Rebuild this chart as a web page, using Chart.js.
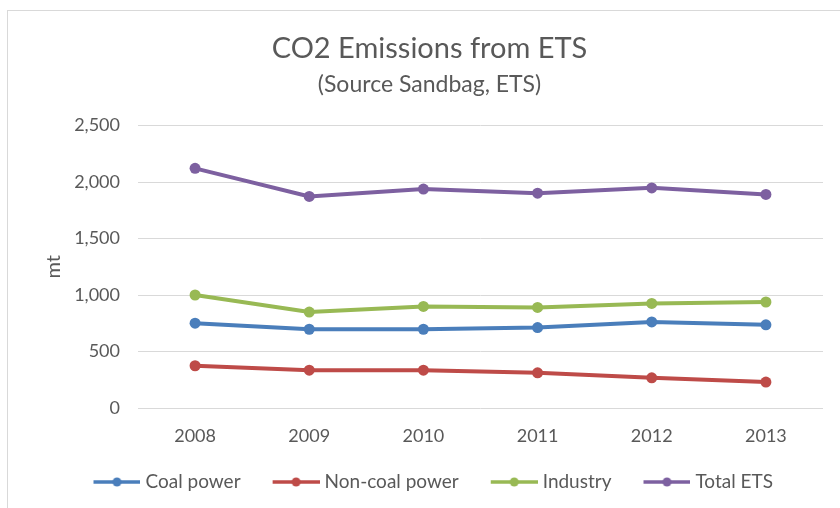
<!DOCTYPE html>
<html>
<head>
<meta charset="utf-8">
<script src="https://cdn.jsdelivr.net/npm/chart.js@4"></script>
<style>
  body { margin: 0; background: #fff; }
  #wrap { position: relative; width: 840px; height: 508px; overflow: hidden; }
  #frame {
    position: absolute; left: 7px; top: 10px; width: 900px; height: 600px;
    border-left: 1px solid #d9d9d9; border-top: 1px solid #d9d9d9;
    pointer-events: none;
  }
</style>
</head>
<body>
<div id="wrap">
  <canvas id="emissions" width="840" height="508"></canvas>
  <div id="frame"></div>
</div>
<script>
const years = ['2008', '2009', '2010', '2011', '2012', '2013'];
const coalPower = [751, 697, 697, 712, 762, 736];
const nonCoalPower = [374, 335, 335, 311, 267, 229];
const industry = [1000, 849, 899, 890, 925, 938];
const totalEts = [2121, 1872, 1937, 1901, 1948, 1890];

const seriesNames = ['Coal power', 'Non-coal power', 'Industry', 'Total ETS'];
const seriesColors = ['#4a7ebb', '#be4b48', '#98b954', '#7d60a0'];
const yTicks = [0, 500, 1000, 1500, 2000, 2500];

const FONT = 'Lato, "Open Sans", sans-serif';
const GREY = '#595959';

// line-with-dot swatch for the legend; the left 12px stay blank so the
// items sit a bit further apart than the legend padding alone gives
function legendSwatch(color) {
    const c = document.createElement('canvas');
    c.width = 59;
    c.height = 12;
    const g = c.getContext('2d');
    g.strokeStyle = color;
    g.lineWidth = 3.5;
    g.beginPath();
    g.moveTo(12, 6);
    g.lineTo(59, 6);
    g.stroke();
    g.fillStyle = color;
    g.beginPath();
    g.arc(35.5, 6, 4.5, 0, Math.PI * 2);
    g.fill();
    return c;
}

function makeSet(label, data, color) {
    return {
        label: label,
        data: data,
        borderColor: color,
        backgroundColor: color,
        borderWidth: 4,
        pointRadius: 5.5,
        pointHoverRadius: 5.5,
        pointBorderWidth: 0,
        tension: 0
    };
}

const datasets = [
    makeSet(seriesNames[0], coalPower, seriesColors[0]),
    makeSet(seriesNames[1], nonCoalPower, seriesColors[1]),
    makeSet(seriesNames[2], industry, seriesColors[2]),
    makeSet(seriesNames[3], totalEts, seriesColors[3])
];

new Chart(document.getElementById('emissions'), {
    type: 'line',
    data: {
        labels: years,
        datasets: datasets
    },
    options: {
        responsive: false,
        animation: false,
        layout: {
            padding: { left: 36, right: 17, top: 0, bottom: 6.5 }
        },
        plugins: {
            title: {
                display: true,
                text: 'CO2 Emissions from ETS',
                color: GREY,
                font: { family: FONT, size: 29, weight: 'normal', lineHeight: 1 },
                padding: { top: 34.5, bottom: 0 }
            },
            subtitle: {
                display: true,
                text: '(Source Sandbag, ETS)',
                color: GREY,
                font: { family: FONT, size: 23, weight: 'normal', lineHeight: 1 },
                padding: { top: 10, bottom: 29 }
            },
            legend: {
                position: 'bottom',
                labels: {
                    color: GREY,
                    font: { family: FONT, size: 19 },
                    usePointStyle: true,
                    pointStyleWidth: 50,
                    padding: 24.5,
                    generateLabels: function (chart) {
                        const items = Chart.defaults.plugins.legend.labels.generateLabels(chart);
                        items.forEach(function (item, i) {
                            item.pointStyle = legendSwatch(seriesColors[i]);
                        });
                        return items;
                    }
                }
            },
            tooltip: { enabled: false }
        },
        scales: {
            x: {
                offset: true,
                afterFit: function (scale) {
                    scale.height = 40;
                },
                grid: { display: false, drawTicks: false },
                border: { display: false },
                ticks: {
                    color: GREY,
                    font: { family: FONT, size: 18 },
                    padding: 17
                }
            },
            y: {
                min: 0,
                max: 2500,
                afterBuildTicks: function (scale) {
                    scale.ticks = yTicks.map(v => ({ value: v }));
                },
                afterFit: function (scale) {
                    scale.width = 102;
                },
                grid: { color: '#d9d9d9', lineWidth: 1, drawTicks: false },
                border: { display: false },
                ticks: {
                    color: GREY,
                    font: { family: FONT, size: 18 },
                    padding: 18,
                    callback: v => v.toLocaleString('en-US')
                },
                title: {
                    display: true,
                    text: 'mt',
                    color: GREY,
                    font: { family: FONT, size: 20, lineHeight: 1.2 },
                    padding: { top: 6, bottom: 0 }
                }
            }
        }
    }
});
</script>
</body>
</html>
